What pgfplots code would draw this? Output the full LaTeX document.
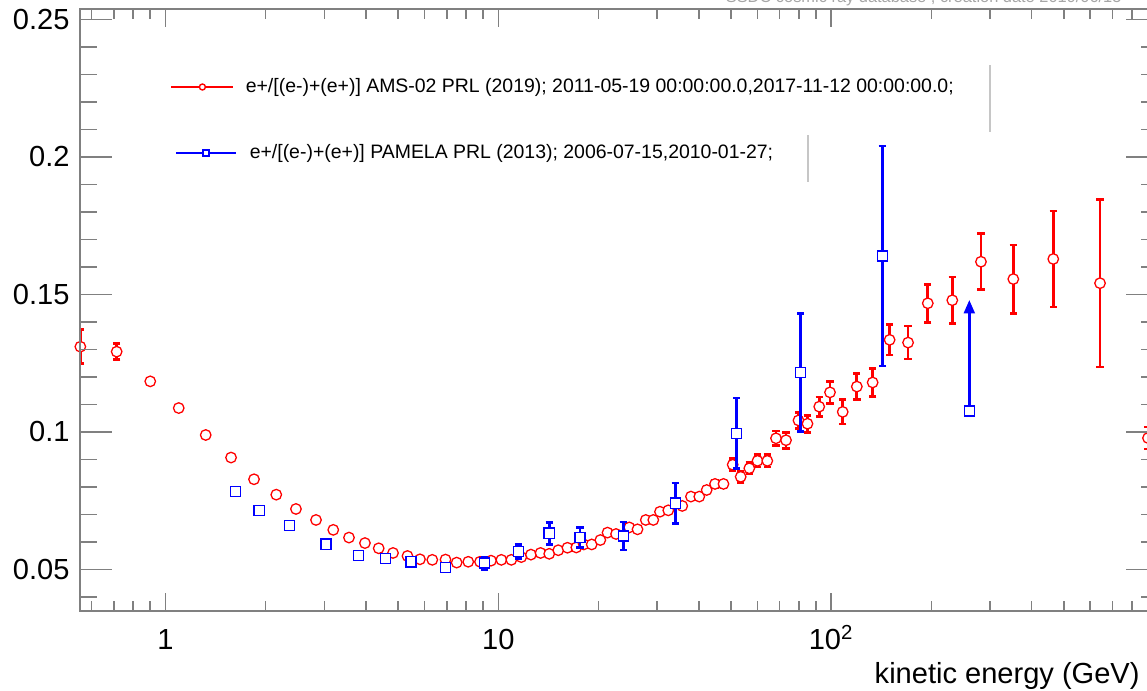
\documentclass[border=0pt]{standalone}
\usepackage{fontspec}
\setmainfont{Liberation Sans}
\usepackage{pgfplots}
\usepackage{pgfplotstable}
\pgfplotsset{compat=1.18}
\usetikzlibrary{arrows.meta}

\definecolor{axgray}{RGB}{128,128,128}
% 1 px of the reference = 0.015 cm

% AMS-02 positron fraction: E (GeV), value, error
\pgfplotstableread{
E      f      ef
0.555  0.1310 0.0062
0.7135 0.1292 0.0029
0.900  0.1184 0.0007
1.096  0.1087 0.0007
1.321  0.0989 0.0006
1.574  0.0907 0.0005
1.845  0.0828 0.0004
2.152  0.0772 0.0004
2.466  0.0720 0.0004
2.833  0.0680 0.0004
3.192  0.0644 0.0004
3.559  0.0616 0.0004
3.975  0.0596 0.0004
4.371  0.0577 0.0004
4.826  0.0560 0.0004
5.334  0.0549 0.0004
5.815  0.0537 0.0004
6.333  0.0535 0.0004
6.939  0.0536 0.0004
7.497  0.0525 0.0004
8.121  0.0528 0.0004
8.808  0.0528 0.0004
9.505  0.0532 0.0004
10.21  0.0535 0.0004
10.94  0.0535 0.0004
11.72  0.0545 0.0004
12.53  0.0554 0.0004
13.39  0.0560 0.0004
14.22  0.0557 0.0004
15.14  0.0570 0.0004
16.13  0.0579 0.0005
17.15  0.0580 0.0005
18.06  0.0591 0.0005
19.08  0.0591 0.0005
20.25  0.0607 0.0005
21.28  0.0634 0.0007
22.57  0.0629 0.0007
24.74  0.0653 0.0007
26.19  0.0646 0.0007
27.73  0.0680 0.0008
29.21  0.0680 0.0008
30.59  0.0710 0.0009
32.40  0.0715 0.0009
35.69  0.0731 0.0010
37.91  0.0765 0.0011
40.15  0.0765 0.0011
42.26  0.0789 0.0012
44.76  0.0811 0.0013
47.47  0.0811 0.0013
50.59  0.0881 0.0022
53.47  0.0837 0.0020
56.75  0.0868 0.0020
60.06  0.0895 0.0022
64.28  0.0895 0.0022
68.26  0.0977 0.0027
73.16  0.0970 0.0029
79.75  0.1042 0.0029
84.87  0.1030 0.0031
92.05  0.1092 0.0035
99.17  0.1144 0.0040
108.3  0.1073 0.0044
119.4  0.1165 0.0047
133.2  0.1180 0.0051
149.8  0.1335 0.0055
170.2  0.1325 0.0060
195.1  0.1468 0.0069
231.1  0.1479 0.0084
281.8  0.1619 0.0102
352.5  0.1556 0.0124
464.7  0.1629 0.0175
642.2  0.1541 0.0305
894.8  0.0978 0.0040
}\amsdata

% PAMELA positron fraction
\pgfplotstableread{
E      f      ef
1.621  0.0783 0.0004
1.913  0.0715 0.0004
2.355  0.0659 0.0004
3.035  0.0592 0.0004
3.806  0.0550 0.0004
4.586  0.0539 0.0004
5.464  0.0528 0.0004
6.949  0.0508 0.0005
9.074  0.0523 0.0022
11.48  0.0565 0.0025
14.22  0.0632 0.0040
17.59  0.0617 0.0036
23.74  0.0622 0.0051
34.01  0.0741 0.0073
52.01  0.0995 0.0129
80.98  0.1217 0.0215
142.5  0.1640 0.0400
}\pameladata

\begin{document}
\begin{tikzpicture}

% axis 1: x ticks, AMS-02 data
\begin{axis}[
  at={(1.2cm,1.2cm)}, anchor=south west,
  scale only axis, width=16.17cm, height=9.03cm,
  xmode=log, xmin=0.5536, xmax=959,
  ymin=0.0349, ymax=0.2538,
  tick align=inside, tick pos=both,
  axis line style={axgray, line width=0.65pt},
  tick style={axgray, line width=0.65pt},
  xtick={1,10,100}, xticklabels={1,10,{10\textsuperscript{2}}},
  minor xtick={0.6,0.7,0.8,0.9,2,3,4,5,6,7,8,9,20,30,40,50,60,70,80,90,200,300,400,500,600,700,800,900},
  ytick=\empty,
  major tick length=0.27cm, minor tick length=0.15cm,
  xticklabel style={font=\fontsize{12.4}{14}\selectfont, anchor=base, yshift=-0.585cm, inner sep=0pt},
  xlabel={kinetic energy (GeV)},
  xlabel style={at={(axis description cs:0.9833,0)}, anchor=base east, yshift=-1.095cm,
    inner sep=0pt, font=\fontsize{12.4}{14}\selectfont},
  legend style={draw=none, fill=none, inner sep=0pt, outer sep=0pt,
    font=\fontsize{8.3}{10}\selectfont, nodes={inner sep=0pt}, column sep=0.165cm,
    at={(axis description cs:0.0835,0.8704)}, anchor=west},
]
% error bars first, then the open markers on top of them
\addplot[red, only marks, mark=none, forget plot,
  error bars/y dir=both, error bars/y explicit,
  error bars/error bar style={line width=1.15pt},
  error bars/error mark options={rotate=90, line width=1.15pt, mark size=0.055cm}]
  table[x=E, y=f, y error=ef] {\amsdata};
\addplot[red, only marks, mark=*, mark size=2.25pt,
  mark options={draw=red, fill=white, line width=0.55pt}, forget plot]
  table[x=E, y=f] {\amsdata};
\addlegendimage{legend image code/.code={
  \draw[red, line width=1.2pt] (0cm,0cm) -- (0.93cm,0cm);
  \draw[red, line width=0.6pt, fill=white] (0.465cm,0cm) circle (0.045cm);}}
\addlegendentry{e+/[(e-)+(e+)] AMS-02 PRL (2019); 2011-05-19 00:00:00.0,2017-11-12 00:00:00.0;}
\end{axis}

% axis 2: y ticks, PAMELA data
\begin{axis}[
  at={(1.2cm,1.2cm)}, anchor=south west,
  scale only axis, width=16.17cm, height=9.03cm,
  xmode=log, xmin=0.5536, xmax=959,
  ymin=0.0349, ymax=0.2538,
  tick align=inside, tick pos=both,
  axis line style={axgray, line width=0.65pt},
  tick style={axgray, line width=0.65pt},
  xtick=\empty,
  ytick={0.05,0.1,0.15,0.2,0.25}, yticklabels={0.05,0.1,0.15,0.2,0.25},
  minor ytick={0.04,0.06,0.07,0.08,0.09,0.11,0.12,0.13,0.14,0.16,0.17,0.18,0.19,0.21,0.22,0.23,0.24},
  major tick length=0.48cm, minor tick length=0.255cm,
  yticklabel style={font=\fontsize{12.4}{14}\selectfont, anchor=east, xshift=-0.15cm, inner sep=0pt},
  legend style={draw=none, fill=none, inner sep=0pt, outer sep=0pt,
    font=\fontsize{8.3}{10}\selectfont, nodes={inner sep=0pt}, column sep=0.18cm,
    at={(axis description cs:0.0881,0.7608)}, anchor=west},
]
\addplot[blue, only marks, mark=none, forget plot,
  error bars/y dir=both, error bars/y explicit,
  error bars/error bar style={line width=1.15pt},
  error bars/error mark options={rotate=90, line width=1.15pt, mark size=0.055cm}]
  table[x=E, y=f, y error=ef] {\pameladata};
% lower limit drawn as an upward arrow
\addplot[blue, only marks, mark=none, forget plot,
  error bars/y dir=plus, error bars/y explicit, error bars/error mark=none,
  error bars/error bar style={line width=1.15pt, -{Triangle[length=0.2cm,width=0.16cm]}}]
  coordinates {(260.0,0.1076) +- (0,0.0404)};
\addplot[blue, only marks, mark=square*, mark size=2.15pt,
  mark options={draw=blue, fill=white, line width=0.6pt}, forget plot]
  table[x=E, y=f] {\pameladata};
\addplot[blue, only marks, mark=square*, mark size=2.15pt,
  mark options={draw=blue, fill=white, line width=0.6pt}, forget plot]
  coordinates {(260.0,0.1076)};
\addlegendimage{legend image code/.code={
  \draw[blue, line width=1.2pt] (0cm,0cm) -- (0.9cm,0cm);
  \draw[blue, line width=0.6pt, fill=white] (0.4cm,-0.045cm) rectangle (0.49cm,0.045cm);}}
\addlegendentry{e+/[(e-)+(e+)] PAMELA PRL (2013); 2006-07-15,2010-01-27;}
\end{axis}

% remnants of the legend frame and the cut-off caption
\draw[gray!45, line width=0.5pt] (14.85,8.385) -- (14.85,9.39);
\draw[gray!45, line width=0.5pt] (12.12,7.635) -- (12.12,8.34);
\node[anchor=base east, inner sep=0pt, text=gray!70, font=\fontsize{7}{8}\selectfont]
  at (16.83,10.32) {SSDC cosmic ray database , creation date 2019/06/15};

\pgfresetboundingbox
\useasboundingbox (0,0) rectangle (17.205,10.365);
\end{tikzpicture}
\end{document}
